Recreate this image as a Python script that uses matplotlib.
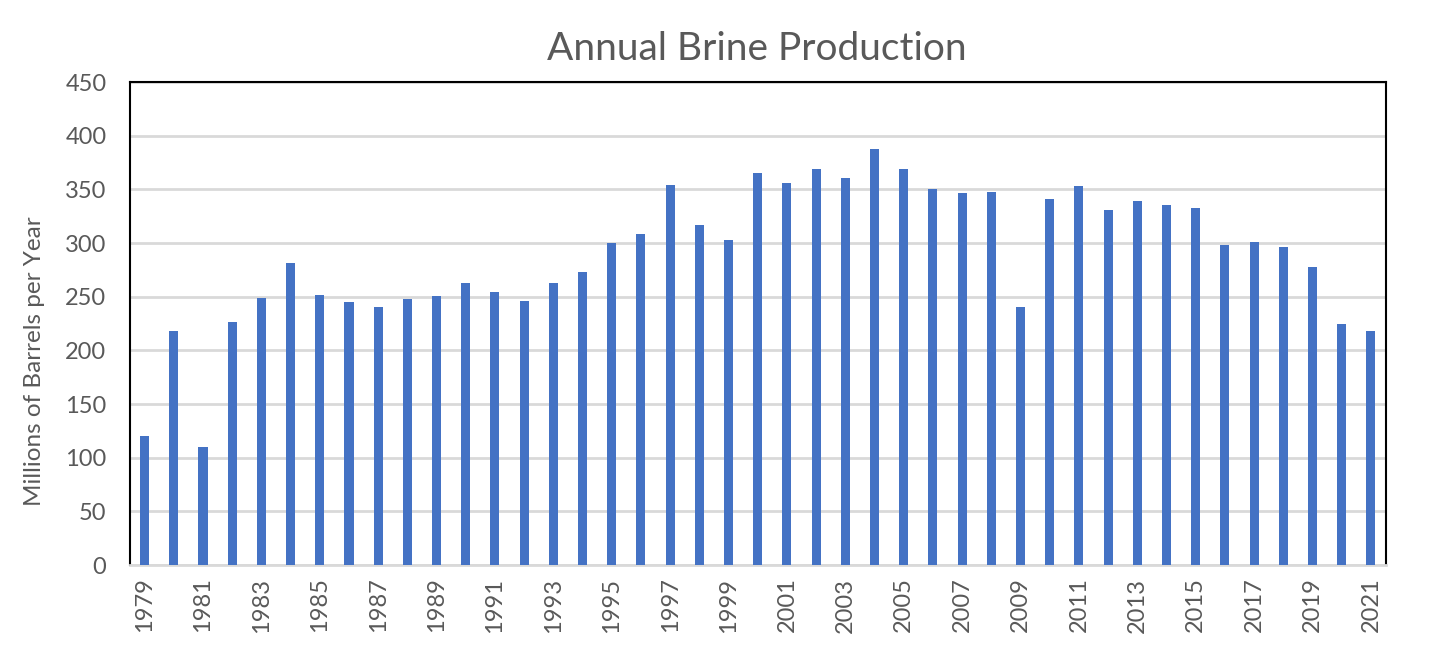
import numpy as np
import matplotlib.pyplot as plt

plt.rcParams['font.family'] = ['Lato', 'DejaVu Sans']

# years and annual brine production (millions of barrels)
years = list(range(1979, 2022))
brine = [120, 218, 110, 226, 249, 281, 252, 245, 240, 248, 251, 263, 254, 246,
         263, 273, 300, 308, 354, 317, 303, 365, 356, 369, 361, 388, 369, 350,
         347, 348, 240, 341, 353, 331, 339, 335, 333, 298, 301, 296, 278, 225, 218]

grey = '#595959'

fig = plt.figure(figsize=(14.3, 6.58), dpi=100)
ax = fig.add_axes([0.0909, 0.1413, 0.878, 0.734])

x = np.arange(len(years))
ax.bar(x, brine, width=0.31, color='#4472C4', zorder=3)

ax.set_xlim(-0.5, len(years) - 0.5)
ax.set_ylim(0, 450)
ax.set_yticks(np.arange(0, 451, 50))
ax.yaxis.grid(True, color='#d9d9d9', linewidth=2, zorder=0)

ax.set_xticks(x[::2])
ax.set_xticklabels([str(y) for y in years[::2]], rotation=90)
ax.tick_params(axis='both', length=0, labelsize=17, colors=grey)
ax.tick_params(axis='x', pad=9)
ax.tick_params(axis='y', pad=17)

for side in ['top', 'left', 'right']:
    ax.spines[side].set_color('black')
    ax.spines[side].set_linewidth(1.5)
ax.spines['bottom'].set_color('#d9d9d9')
ax.spines['bottom'].set_linewidth(2)

ax.set_ylabel('Millions of Barrels per Year', fontsize=17.5, color=grey)
ax.yaxis.set_label_coords(-0.068, 0.422)
fig.text(0.529, 0.925, 'Annual Brine Production', fontsize=28, color=grey,
         ha='center', va='center')

fig.savefig('out.png', dpi=100)
